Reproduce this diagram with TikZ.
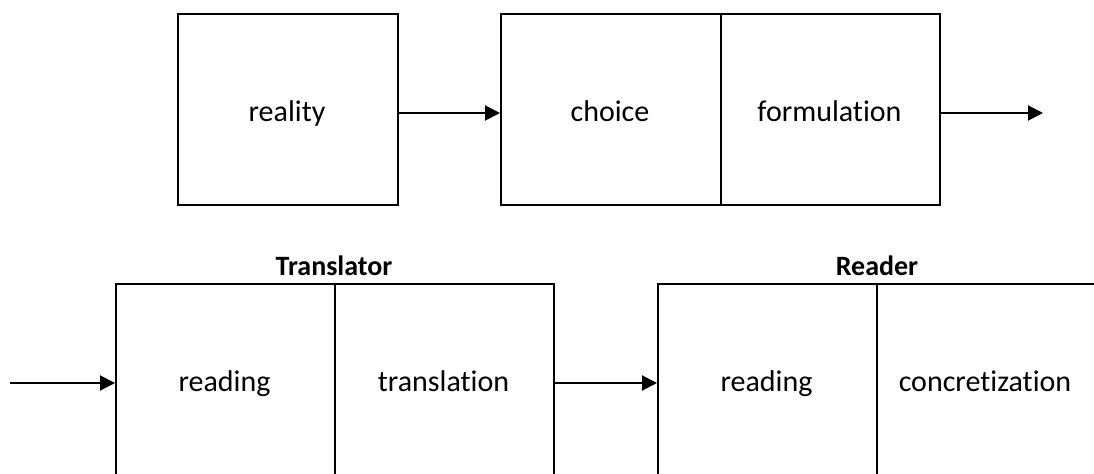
\documentclass[tikz,border=0pt]{standalone}
\usepackage{fontspec}
\setmainfont{Carlito}[Ligatures=NoCommon]
\usetikzlibrary{arrows.meta}
\begin{document}
\begin{tikzpicture}[x=0.5pt,y=-0.5pt,
  cell/.style={draw, line width=1pt, inner sep=0pt, anchor=north west, minimum width=#1},
  lbl/.style={font=\fontsize{15}{18}\selectfont, anchor=base, inner sep=0pt},
  head/.style={font=\bfseries\fontsize{14}{17}\selectfont, anchor=base, inner sep=0pt},
  arr/.style={line width=1pt, -{Triangle[length=7.5pt,width=7.5pt]}}]
\useasboundingbox (0,0) rectangle (1094,474);
\clip (0,0) rectangle (1094,474);
\coordinate (r1) at (0,113);
\coordinate (r2) at (0,383);
% top row
\node[cell=110pt, minimum height=95.5pt] (reality) at (177,13) {};
\node[cell=110pt, minimum height=95.5pt] (choice) at (500,13) {};
\node[cell=109.5pt, minimum height=95.5pt] (formulation) at (720,13) {};
\node[lbl] (treality) at (287,122) {reality};
\node[lbl] (tchoice) at (610,122) {choice};
\node[lbl] (tformulation) at (829.5,122) {formulation};
\coordinate (out1) at (1043,113);
\draw[arr] (reality.east |- r1) -- (choice.west |- r1);
\draw[arr] (formulation.east |- r1) -- (out1);
% bottom row
\node[cell=109.5pt, minimum height=110pt] (readingA) at (115,283) {};
\node[cell=109.5pt, minimum height=110pt] (translation) at (334,283) {};
\node[cell=109.5pt, minimum height=110pt] (readingB) at (657,283) {};
\node[cell=110pt, minimum height=110pt] (concretization) at (876,283) {};
\node[lbl] (treadingA) at (224.5,392) {reading};
\node[lbl] (ttranslation) at (443.5,392) {translation};
\node[lbl] (treadingB) at (766.5,392) {reading};
\node[lbl] (tconcretization) at (985,392) {concretization};
\node[head] (translator) at (334,276) {Translator};
\node[head] (reader) at (877,276) {Reader};
\coordinate (in2) at (10,383);
\draw[arr] (in2) -- (readingA.west |- r2);
\draw[arr] (translation.east |- r2) -- (readingB.west |- r2);
\end{tikzpicture}
\end{document}
